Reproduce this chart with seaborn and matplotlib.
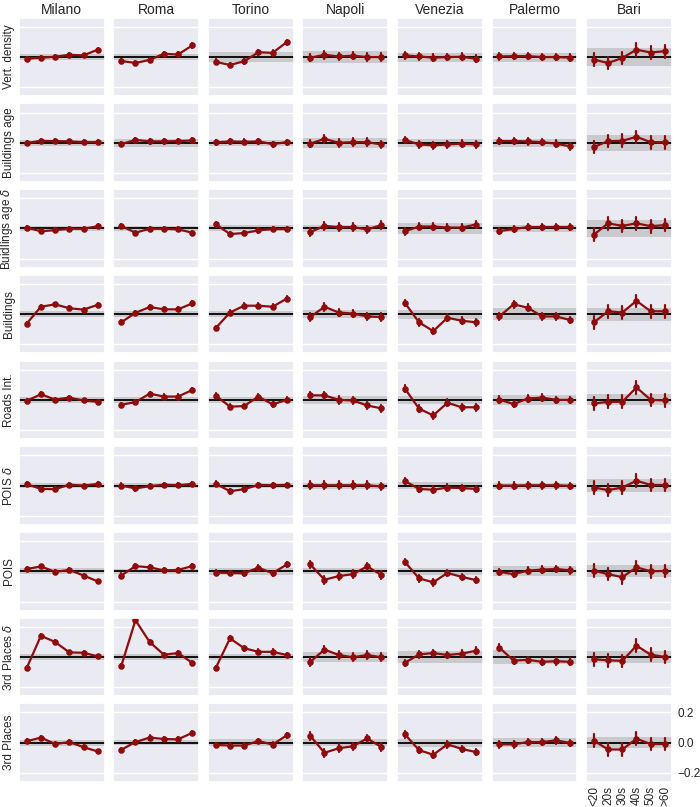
import matplotlib
matplotlib.use("Agg")
import matplotlib.pyplot as plt
import pandas as pd
import seaborn as sns

# --- data ---
cities = ["Milano", "Roma", "Torino", "Napoli", "Venezia", "Palermo", "Bari"]
age_groups = ["<20", "20s", "30s", "40s", "50s", ">60"]
features = ["Vert. density", "Buildings age", r"Buidlings age $\delta$", "Buildings",
            "Roads Int.", r"POIS $\delta$", "POIS", r"3rd Places $\delta$", "3rd Places"]

# one list of 6 values (age groups) per city, cities in the order above
vert_density = [
    [-0.011, -0.004, 0.002, 0.015, 0.011, 0.049],
    [-0.026, -0.039, -0.019, 0.022, 0.017, 0.077],
    [-0.032, -0.052, -0.028, 0.032, 0.028, 0.099],
    [-0.004, 0.015, 0.004, 0.009, 0.000, 0.000],
    [0.011, 0.004, -0.004, 0.000, 0.002, -0.011],
    [0.004, 0.006, 0.006, 0.000, 0.000, -0.004],
    [-0.017, -0.039, -0.006, 0.049, 0.030, 0.039],
]
buildings_age = [
    [-0.002, 0.013, 0.011, 0.009, 0.004, 0.004],
    [-0.009, 0.019, 0.009, 0.009, 0.011, 0.015],
    [0.002, 0.009, 0.006, 0.009, -0.009, 0.004],
    [-0.006, 0.026, 0.000, 0.004, 0.004, -0.011],
    [0.019, -0.011, -0.017, -0.011, -0.006, -0.011],
    [0.011, 0.011, 0.009, 0.004, -0.006, -0.024],
    [-0.028, 0.011, 0.013, 0.039, 0.004, 0.004],
]
buildings_age_d = [
    [0.006, -0.019, -0.011, -0.002, -0.002, 0.015],
    [0.017, -0.028, -0.002, -0.002, -0.006, -0.028],
    [0.028, -0.037, -0.030, -0.013, -0.004, -0.004],
    [-0.024, 0.017, 0.009, 0.009, -0.006, 0.022],
    [-0.019, 0.013, 0.013, 0.006, 0.006, 0.026],
    [-0.017, -0.004, 0.009, 0.009, 0.009, 0.009],
    [-0.041, 0.034, 0.017, 0.034, 0.015, 0.022],
]
buildings = [
    [-0.062, 0.049, 0.065, 0.039, 0.030, 0.062],
    [-0.054, 0.009, 0.047, 0.032, 0.032, 0.071],
    [-0.092, 0.011, 0.056, 0.056, 0.049, 0.103],
    [-0.019, 0.049, 0.011, 0.004, -0.015, -0.019],
    [0.075, -0.054, -0.112, -0.024, -0.043, -0.054],
    [-0.015, 0.065, 0.043, -0.015, -0.015, -0.039],
    [-0.054, 0.019, 0.011, 0.088, 0.019, 0.019],
]
roads_int = [
    [-0.006, 0.037, 0.002, 0.015, -0.004, -0.013],
    [-0.032, -0.015, 0.041, 0.022, 0.022, 0.065],
    [0.028, -0.045, -0.041, 0.022, -0.030, 0.000],
    [0.030, 0.030, 0.000, -0.004, -0.037, -0.056],
    [0.075, -0.058, -0.103, -0.019, -0.049, -0.049],
    [0.002, -0.028, 0.009, 0.015, 0.000, 0.000],
    [-0.024, -0.013, -0.013, 0.082, 0.000, -0.004],
]
pois_d = [
    [0.009, -0.022, -0.024, 0.006, 0.000, 0.011],
    [0.000, -0.019, -0.004, 0.006, 0.002, 0.011],
    [0.011, -0.037, -0.024, 0.004, 0.002, 0.004],
    [0.002, 0.002, 0.002, 0.002, 0.002, -0.006],
    [0.030, -0.022, -0.028, -0.013, -0.017, -0.022],
    [0.000, 0.000, 0.002, 0.002, 0.002, -0.002],
    [-0.013, -0.030, -0.013, 0.032, 0.004, 0.004],
]
pois = [
    [0.015, 0.032, -0.004, 0.009, -0.028, -0.067],
    [-0.028, 0.034, 0.026, 0.006, 0.009, 0.034],
    [-0.009, -0.011, -0.013, 0.024, -0.013, 0.045],
    [0.045, -0.056, -0.032, -0.019, 0.032, -0.024],
    [0.062, -0.047, -0.073, -0.011, -0.037, -0.058],
    [-0.004, -0.019, 0.004, 0.011, 0.015, 0.006],
    [0.004, -0.019, -0.039, 0.026, 0.000, 0.002],
]
third_places_d = [
    [-0.073, 0.140, 0.099, 0.030, 0.028, 0.004],
    [-0.060, 0.243, 0.099, 0.015, 0.026, -0.039],
    [-0.073, 0.123, 0.058, 0.034, 0.034, 0.013],
    [-0.032, 0.049, 0.013, -0.002, 0.013, -0.002],
    [-0.039, 0.017, 0.026, 0.013, 0.022, 0.041],
    [0.062, -0.024, -0.019, -0.032, -0.028, -0.032],
    [-0.015, -0.022, -0.026, 0.075, 0.015, 0.000],
]
third_places = [
    [0.009, 0.034, -0.009, 0.004, -0.030, -0.058],
    [-0.047, 0.004, 0.034, 0.024, 0.022, 0.065],
    [-0.015, -0.019, -0.019, 0.011, -0.013, 0.049],
    [0.045, -0.067, -0.037, -0.024, 0.028, -0.028],
    [0.056, -0.049, -0.080, -0.011, -0.041, -0.062],
    [-0.011, -0.011, 0.004, 0.004, 0.015, -0.002],
    [0.013, -0.045, -0.045, 0.026, -0.009, -0.009],
]
feature_values = [vert_density, buildings_age, buildings_age_d, buildings, roads_int,
                  pois_d, pois, third_places_d, third_places]

# half-width of the error bars, per city
city_err = [0.012, 0.014, 0.016, 0.025, 0.022, 0.022, 0.042]

# half-width of the grey baseline band, per feature (rows) and city (cols)
band_width = [
    [0.022, 0.020, 0.033, 0.041, 0.030, 0.030, 0.059],
    [0.020, 0.025, 0.020, 0.032, 0.028, 0.027, 0.054],
    [0.016, 0.018, 0.020, 0.024, 0.037, 0.022, 0.057],
    [0.020, 0.020, 0.022, 0.025, 0.030, 0.040, 0.043],
    [0.020, 0.020, 0.020, 0.026, 0.026, 0.032, 0.036],
    [0.015, 0.015, 0.015, 0.020, 0.024, 0.020, 0.043],
    [0.020, 0.015, 0.023, 0.020, 0.024, 0.032, 0.041],
    [0.018, 0.018, 0.020, 0.032, 0.040, 0.045, 0.040],
    [0.020, 0.015, 0.024, 0.022, 0.026, 0.030, 0.038],
]

# long table: each point is stored as (mean - err, mean, mean + err) so that
# seaborn's median + 100% interval gives back the point and its error bar
rows = []
for f, vals in zip(features, feature_values):
    for c, city_vals, e in zip(cities, vals, city_err):
        for a, v in zip(age_groups, city_vals):
            for d in (-e, 0.0, e):
                rows.append({"feature": f, "city": c, "age": a, "value": v + d})
df = pd.DataFrame(rows)

sns.set_theme(style="darkgrid")
plt.rcParams["font.family"] = ["Liberation Sans", "DejaVu Sans"]
red = "#8E0C0C"

fig, axes = plt.subplots(len(features), len(cities), figsize=(7, 8.07), dpi=100)
plt.subplots_adjust(left=0.027, right=0.96, top=0.978, bottom=0.031, wspace=0.1, hspace=0.09)

for i, f in enumerate(features):
    for j, c in enumerate(cities):
        ax = axes[i, j]
        b = band_width[i][j]
        ax.axhspan(-b, b, color="0.55", alpha=0.35, lw=0, zorder=1)
        ax.axhline(0, color="black", lw=1.3, zorder=2)
        sub = df[(df["feature"] == f) & (df["city"] == c)]
        sns.pointplot(data=sub, x="age", y="value", order=age_groups,
                      estimator="median", errorbar=("pi", 100), color=red,
                      markersize=3.5, linewidth=1.6, err_kws={"linewidth": 1.6}, ax=ax)
        ax.set_ylim(-0.26, 0.26)
        ax.set_yticks([-0.2, 0.0, 0.2])
        ax.set_xlim(-0.55, 5.5)
        ax.set_xlabel("")
        ax.set_ylabel(f if j == 0 else "", fontsize=8.5, labelpad=3)
        ax.tick_params(length=0)
        if i == 0:
            ax.set_title(c, fontsize=10, pad=3)
        if i == len(features) - 1 and j == len(cities) - 1:
            ax.yaxis.tick_right()
            ax.tick_params(axis="y", length=0, labelright=True, labelleft=False,
                           labelsize=8.5, pad=4)
            ax.tick_params(axis="x", length=0, labelbottom=True, labelsize=8.5,
                           rotation=90, pad=3)
            ax.set_yticklabels(["\u22120.2", "0.0", "0.2"])
        else:
            ax.tick_params(labelbottom=False, labelleft=False)

plt.savefig("out.png", dpi=100)
